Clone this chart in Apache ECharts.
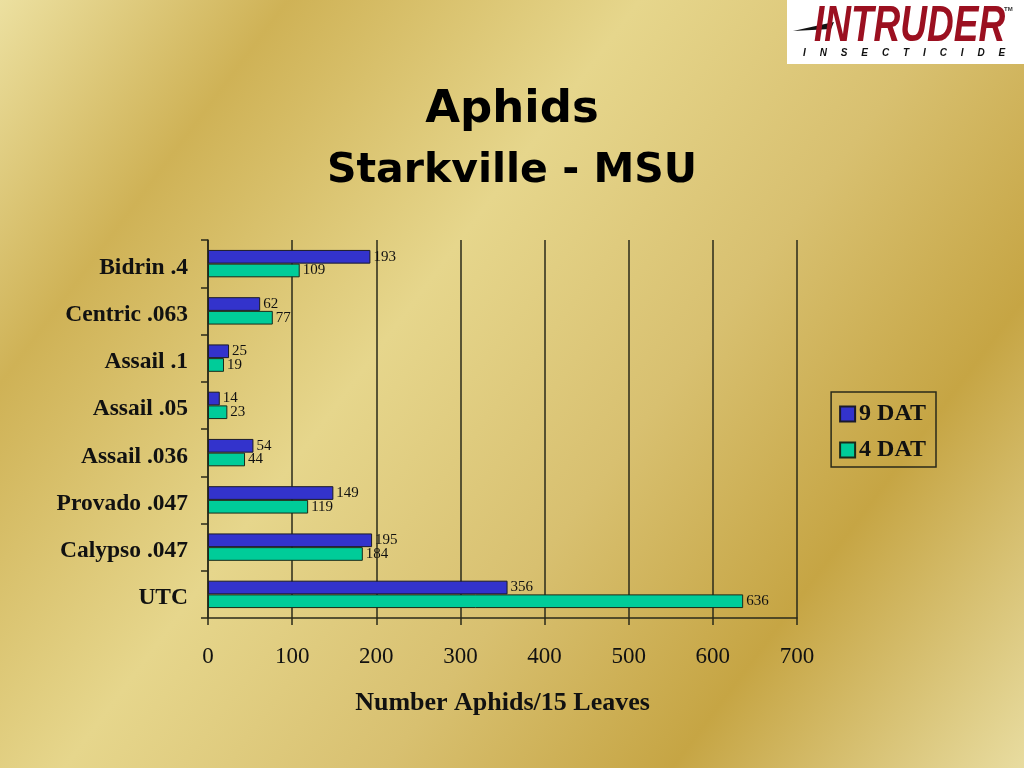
<!DOCTYPE html>
<html><head><meta charset="utf-8">
<script src="https://cdn.jsdelivr.net/npm/echarts@6/dist/echarts.min.js"></script>
<style>html,body{margin:0;padding:0;}#c{width:1024px;height:768px;}</style>
</head><body><div id="c"></div>
<script>
const categories = ['Bidrin .4','Centric .063','Assail .1','Assail .05','Assail .036','Provado .047','Calypso .047','UTC'];
const dat9 = [193, 62, 25, 14, 54, 149, 195, 356];
const dat4 = [109, 77, 19, 23, 44, 119, 184, 636];
const seriesNames = ['9 DAT','4 DAT'];

const chart = echarts.init(document.getElementById('c'));
const serif = '"Liberation Serif","Times New Roman",serif';
const lbl = {show:true, position:'right', distance:3, color:'#111', fontFamily:serif, fontSize:15};
chart.setOption({
  backgroundColor: {
    type:'linear', x:0, y:0, x2:1, y2:1,
    colorStops:[
      {offset:0, color:'#ece0a0'},
      {offset:0.18, color:'#cfb256'},
      {offset:0.4, color:'#e6d68c'},
      {offset:0.6, color:'#d8c070'},
      {offset:0.78, color:'#c6a544'},
      {offset:1, color:'#e8dca0'}
    ]
  },
  animation:false,
  title:[
    {text:'Aphids', left:'center', top:83, textStyle:{fontFamily:'"DejaVu Sans",Verdana,sans-serif', fontWeight:'bold', fontSize:45, color:'#000'}},
    {text:'Starkville - MSU', left:'center', top:146, textStyle:{fontFamily:'"DejaVu Sans",Verdana,sans-serif', fontWeight:'bold', fontSize:41, color:'#000'}}
  ],
  graphic:[
    {type:'rect', left:787, top:0, shape:{width:237, height:64}, style:{fill:'#ffffff'}},
    {type:'polygon', shape:{points:[[793,31],[834,22],[831,29]]}, style:{fill:'#111'}},
    {type:'text', x:814, y:2, scaleX:0.74, style:{text:'INTRUDER', font:'italic bold 50px "Liberation Sans",Arial,sans-serif', fill:'#9b1020'}},
    {type:'text', x:1004, y:6, style:{text:'TM', font:'bold 6px "Liberation Sans",Arial,sans-serif', fill:'#333'}},
    {type:'text', x:803, y:48, style:{text:'I     N     S     E     C     T     I     C     I     D     E', font:'italic bold 10px "Liberation Sans",Arial,sans-serif', fill:'#111'}}
  ],
  legend:{
    orient:'vertical', right:88, top:392, itemWidth:15, itemHeight:15, itemGap:12,
    padding:[10,10,5,8], borderColor:'#2a2a1a', borderWidth:1.5,
    icon:'rect',
    textStyle:{fontFamily:serif, fontWeight:'bold', fontSize:24, color:'#111', padding:[0,0,0,-1]},
    data:seriesNames
  },
  grid:{left:208, right:227, top:240, height:378, containLabel:false},
  xAxis:{
    type:'value', min:0, max:700, interval:100,
    name:'Number Aphids/15 Leaves', nameLocation:'middle', nameGap:72,
    nameTextStyle:{fontFamily:serif, fontWeight:'bold', fontSize:26, color:'#111'},
    axisLine:{show:true, lineStyle:{color:'#2a2a1a', width:1.5}},
    axisTick:{show:true, length:7, lineStyle:{color:'#2a2a1a', width:1.5}},
    axisLabel:{fontFamily:serif, fontSize:23, color:'#111', margin:27},
    splitLine:{show:true, lineStyle:{color:'#2a2a1a', width:1.5}}
  },
  yAxis:{
    type:'category', data:categories, inverse:true,
    axisLine:{show:true, lineStyle:{color:'#2a2a1a', width:1.5}},
    axisTick:{show:true, length:7, lineStyle:{color:'#2a2a1a', width:1.5}},
    axisLabel:{margin:20, formatter:function(v){return '{a|' + v + '}';},
      rich:{a:{fontFamily:serif, fontWeight:'bold', fontSize:23.5, color:'#111', padding:[8,0,0,0]}}}
  },
  series:[
    {name:seriesNames[0], type:'bar', data:dat9, barGap:'0%', barCategoryGap:'42%',
     itemStyle:{color:'#3333cc', borderColor:'#1a1a2a', borderWidth:1}, label:lbl},
    {name:seriesNames[1], type:'bar', data:dat4, barGap:'0%', barCategoryGap:'42%',
     itemStyle:{color:'#00cc99', borderColor:'#1a2a1a', borderWidth:1}, label:lbl}
  ]
});
</script></body></html>
